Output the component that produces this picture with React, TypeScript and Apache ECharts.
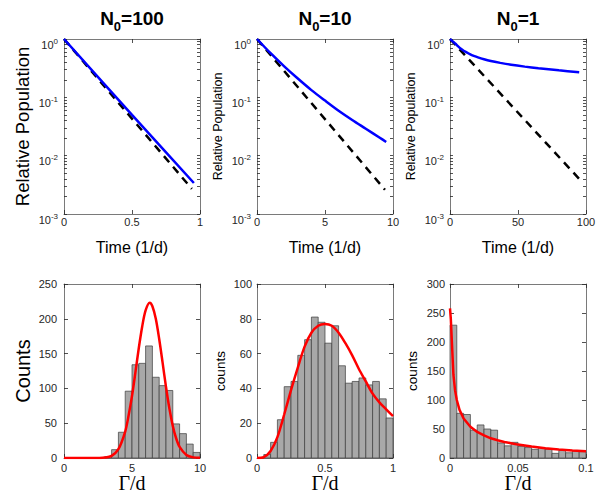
import React, { useEffect, useRef } from 'react';
import * as echarts from 'echarts';

// ---------- data ----------
const titleValues = ['100', '10', '1'];

// Top row: relative population vs time (log y)
const timeMax = [1, 10, 100];
const timeInterval = [0.5, 5, 50];
const dashed100 = [[0, 1], [0.94, 0.0027]];
const blue100 = [[0, 1], [0.5, 0.05], [0.955, 0.0034]];
const dashed10 = [[0, 1], [9.41, 0.0026]];
const blue10 = [
  [0, 1], [1, 0.57], [2, 0.34], [3, 0.21], [4, 0.133], [5, 0.088],
  [6, 0.059], [7, 0.041], [8, 0.029], [9, 0.0205], [9.5, 0.0172],
];
const dashed1 = [[0, 1], [95, 0.004]];
const blue1 = [
  [0, 1], [2, 0.91], [4, 0.83], [6, 0.745], [8, 0.68], [10, 0.63], [12.5, 0.585],
  [16, 0.53], [20, 0.49], [25, 0.45], [30, 0.42], [37, 0.39], [45, 0.362],
  [55, 0.336], [65, 0.315], [80, 0.29], [95, 0.27],
];

// Bottom row: histograms of Γ/d with fitted curves
const hist100Start = 3;
const hist100Width = 0.5;
const hist100Counts = [2, 12, 37, 96, 134, 136, 161, 116, 104, 97, 49, 35, 20, 8];
const fit100 = [
  [0, 0], [2, 0], [2.5, 0.1], [3, 0.6], [3.5, 3], [4, 12.6], [4.5, 38], [4.75, 61],
  [5, 89], [5.25, 123], [5.5, 158], [5.75, 189], [6, 212], [6.3, 223], [6.5, 218],
  [6.75, 200], [7, 171], [7.25, 137], [7.5, 102], [7.75, 71], [8, 46], [8.25, 28],
  [8.5, 16], [9, 4.3], [9.5, 0.9], [10, 0.2],
];

const hist10Start = 0;
const hist10Width = 0.05;
const hist10Counts = [0, 2, 9, 22, 41, 44, 59, 68, 81, 78, 66, 76, 53, 43, 44, 46, 42, 44, 34, 23];
const fit10 = [
  [0, 0], [0.05, 0.5], [0.1, 4], [0.15, 12], [0.2, 25], [0.25, 39], [0.3, 52],
  [0.35, 64], [0.4, 72], [0.45, 76], [0.5, 77], [0.55, 76], [0.6, 72], [0.65, 66],
  [0.7, 59], [0.75, 51], [0.8, 44], [0.85, 37], [0.9, 32], [0.95, 28], [1.0, 24],
];

const hist1Start = 0;
const hist1Width = 0.005;
const hist1Counts = [229, 77, 75, 48, 57, 50, 48, 26, 21, 27, 20, 18, 15, 18, 15, 8, 13, 9, 12, 11];
const fit1 = [
  [0, 258], [0.0006, 240], [0.0012, 209], [0.0025, 144], [0.0037, 117], [0.005, 100],
  [0.007, 83], [0.01, 68], [0.015, 54], [0.02, 45], [0.025, 39], [0.03, 34],
  [0.035, 30.6], [0.04, 27.7], [0.05, 23.1], [0.06, 19.7], [0.07, 17], [0.08, 14.8],
  [0.09, 13], [0.1, 11.5],
];

const histX = [
  { max: 10, interval: 5 },
  { max: 1, interval: 0.5 },
  { max: 0.1, interval: 0.05 },
];
const histY = [
  { max: 250, interval: 50 },
  { max: 100, interval: 20 },
  { max: 300, interval: 50 },
];

// ---------- styling ----------
const FONT = '"Liberation Sans", Arial, Helvetica, sans-serif';
const SERIF = '"Liberation Serif", "Times New Roman", serif';
const INK = '#262626';
const BOX = '#7a7a7a';
const colLeft = [64, 257, 450];
const colCenter = [132, 325, 518];
const plotW = 136;

function buildOption() {
  const grid: any[] = [];
  const xAxis: any[] = [];
  const yAxis: any[] = [];
  const series: any[] = [];
  const title: any[] = [];

  const lineAxis = { show: true, onZero: false, lineStyle: { color: BOX, width: 1 } };
  const tick = (len: number) => ({ show: true, inside: true, length: len, lineStyle: { color: INK, width: 0.8 } });

  const logTicks: number[] = [];
  for (let d = -3; d < 0; d++) for (let k = 1; k <= 9; k++) logTicks.push(k * Math.pow(10, d));
  logTicks.push(1);

  const logLabel = (v: number) => `{b|10}{s|${Math.round(Math.log10(v))}}`;
  const logRich = {
    b: { fontFamily: FONT, fontSize: 11, color: INK, lineHeight: 12, padding: [6, 0, 0, 0], verticalAlign: 'top' },
    s: { fontFamily: FONT, fontSize: 8, color: INK, lineHeight: 8, padding: [4, 0, 0, 0], verticalAlign: 'top' },
  };

  const topLines = [
    [dashed100, blue100],
    [dashed10, blue10],
    [dashed1, blue1],
  ];
  const yNameTop = [
    { size: 18.5, gap: 32 },
    { size: 12.5, gap: 33 },
    { size: 12.5, gap: 33 },
  ];

  for (let i = 0; i < 3; i++) {
    const g = grid.length;
    grid.push({ left: colLeft[i], top: 39, width: plotW, height: 175 });
    const xi = xAxis.length;
    xAxis.push({
      gridIndex: g, type: 'value', min: 0, max: timeMax[i], interval: timeInterval[i], position: 'bottom',
      axisLine: lineAxis, axisTick: tick(4), splitLine: { show: false },
      axisLabel: { fontFamily: FONT, fontSize: 11, color: INK, margin: 2 },
      name: 'Time (1/d)', nameLocation: 'middle', nameGap: 25, nameMoveOverlap: false,
      nameTextStyle: { fontFamily: FONT, fontSize: 16, color: '#000' },
    });
    xAxis.push({
      gridIndex: g, type: 'value', min: 0, max: timeMax[i], interval: timeInterval[i], position: 'top',
      axisLine: lineAxis, axisTick: tick(4), axisLabel: { show: false }, splitLine: { show: false },
    });
    const yi = yAxis.length;
    yAxis.push({
      gridIndex: g, type: 'log', logBase: 10, min: 0.001, max: 1, position: 'left',
      axisLine: lineAxis, axisTick: { ...tick(3), customValues: logTicks }, splitLine: { show: false },
      axisLabel: { formatter: logLabel, rich: logRich, margin: 6 },
      name: 'Relative Population', nameLocation: 'middle', nameGap: yNameTop[i].gap, nameMoveOverlap: false,
      nameTextStyle: { fontFamily: FONT, fontSize: yNameTop[i].size, color: '#000' },
    });
    yAxis.push({
      gridIndex: g, type: 'log', logBase: 10, min: 0.001, max: 1, position: 'right',
      axisLine: lineAxis, axisTick: { ...tick(3), customValues: logTicks },
      axisLabel: { show: false }, splitLine: { show: false },
    });
    series.push({
      type: 'line', xAxisIndex: xi, yAxisIndex: yi, data: topLines[i][0], symbol: 'none',
      lineStyle: { color: '#000', width: 2.5, type: [8, 6] }, silent: true,
    });
    series.push({
      type: 'line', xAxisIndex: xi, yAxisIndex: yi, data: topLines[i][1], symbol: 'none', smooth: 0.3,
      lineStyle: { color: '#0000ff', width: 2.5 }, silent: true,
    });
    title.push({
      text: `{a|N}{s|0}{a|=${titleValues[i]}}`,
      left: colCenter[i], top: 9, textAlign: 'center', padding: 0,
      textStyle: {
        rich: {
          a: { fontFamily: FONT, fontSize: 19, fontWeight: 'bold', color: '#000', lineHeight: 20, verticalAlign: 'top' },
          s: { fontFamily: FONT, fontSize: 13, fontWeight: 'bold', color: '#000', lineHeight: 13, padding: [11, 0, 0, 0], verticalAlign: 'top' },
        },
      },
    });
  }

  const hists = [
    { start: hist100Start, width: hist100Width, counts: hist100Counts, fit: fit100, name: 'Counts', size: 20, gap: 31, margin: 7, smooth: 0.3 },
    { start: hist10Start, width: hist10Width, counts: hist10Counts, fit: fit10, name: 'counts', size: 13.5, gap: 30, margin: 5, smooth: 0.3 },
    { start: hist1Start, width: hist1Width, counts: hist1Counts, fit: fit1, name: 'counts', size: 13.5, gap: 31, margin: 5, smooth: false },
  ];

  for (let i = 0; i < 3; i++) {
    const h = hists[i];
    const g = grid.length;
    grid.push({ left: colLeft[i], top: 284, width: plotW, height: 174 });
    const xi = xAxis.length;
    xAxis.push({
      gridIndex: g, type: 'value', min: 0, max: histX[i].max, interval: histX[i].interval, position: 'bottom',
      axisLine: lineAxis, axisTick: tick(4), splitLine: { show: false },
      axisLabel: { fontFamily: FONT, fontSize: 11, lineHeight: 11, color: INK, margin: 4 },
      name: 'Γ/d', nameLocation: 'middle', nameGap: 15, nameMoveOverlap: false,
      nameTextStyle: { fontFamily: SERIF, fontSize: 20, lineHeight: 20, color: '#000' },
    });
    xAxis.push({
      gridIndex: g, type: 'value', min: 0, max: histX[i].max, interval: histX[i].interval, position: 'top',
      axisLine: lineAxis, axisTick: tick(4), axisLabel: { show: false }, splitLine: { show: false },
    });
    const yi = yAxis.length;
    yAxis.push({
      gridIndex: g, type: 'value', min: 0, max: histY[i].max, interval: histY[i].interval, position: 'left',
      axisLine: lineAxis, axisTick: tick(4), splitLine: { show: false },
      axisLabel: { fontFamily: FONT, fontSize: 11, color: INK, margin: h.margin },
      name: h.name, nameLocation: 'middle', nameGap: h.gap, nameMoveOverlap: false,
      nameTextStyle: { fontFamily: FONT, fontSize: h.size, color: '#000' },
    });
    yAxis.push({
      gridIndex: g, type: 'value', min: 0, max: histY[i].max, interval: histY[i].interval, position: 'right',
      axisLine: lineAxis, axisTick: tick(4), axisLabel: { show: false }, splitLine: { show: false },
    });
    series.push({
      type: 'custom', xAxisIndex: xi, yAxisIndex: yi, silent: true,
      data: h.counts.map((c, k) => [h.start + k * h.width, h.start + (k + 1) * h.width, c]),
      encode: { x: [0, 1], y: 2 },
      renderItem: (params: any, api: any) => {
        const p0 = api.coord([api.value(0), api.value(2)]);
        const p1 = api.coord([api.value(1), 0]);
        return {
          type: 'rect',
          shape: { x: p0[0], y: p0[1], width: p1[0] - p0[0], height: p1[1] - p0[1] },
          style: { fill: '#a8a8a8', stroke: '#3c3c3c', lineWidth: 0.7 },
        };
      },
    });
    series.push({
      type: 'line', xAxisIndex: xi, yAxisIndex: yi, data: h.fit, symbol: 'none', smooth: h.smooth,
      lineStyle: { color: '#ff0000', width: 2.5 }, silent: true, z: 5,
    });
  }

  return {
    animation: false,
    backgroundColor: '#ffffff',
    title,
    grid,
    xAxis,
    yAxis,
    series,
  };
}

export default function App() {
  const ref = useRef<HTMLDivElement>(null);
  useEffect(() => {
    document.body.style.margin = '0';
    if (!ref.current) return;
    const chart = echarts.init(ref.current, undefined, { renderer: 'svg' });
    chart.setOption(buildOption() as any);
    return () => chart.dispose();
  }, []);
  return <div ref={ref} style={{ width: 605, height: 500 }} />;
}
